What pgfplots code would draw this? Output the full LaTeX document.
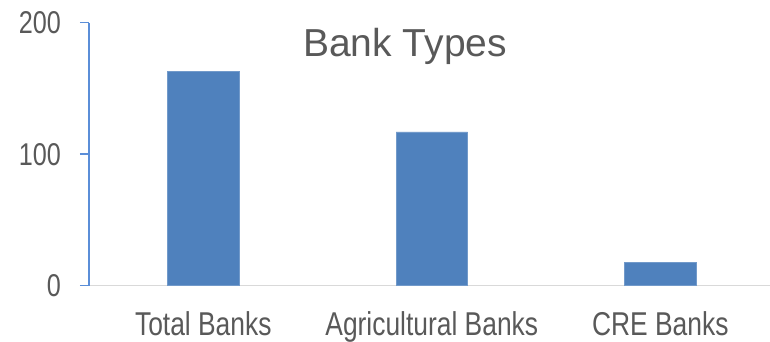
\documentclass[border=0pt]{standalone}
\usepackage{fontspec}
\setmainfont{Liberation Sans}
\newfontfamily\narrow{Liberation Sans}[FakeStretch=0.8]
\usepackage{pgfplots}
\pgfplotsset{compat=1.18}
\definecolor{barblue}{HTML}{4F81BD}
\definecolor{axblue}{HTML}{5B8ED8}
\definecolor{txtgray}{HTML}{595959}
\definecolor{xgray}{HTML}{D9D9D9}
\begin{document}
\begin{tikzpicture}
\useasboundingbox (-89pt,-56.3pt) rectangle (681pt,285.7pt);
\begin{axis}[
  at={(0pt,0pt)}, anchor=south west,
  scale only axis, width=681pt, height=263pt,
  xmin=-0.5, xmax=2.48, ymin=0, ymax=200,
  axis x line*=bottom, axis y line*=left,
  axis line style={-},
  x axis line style={draw=xgray, line width=1.5pt},
  y axis line style={draw=axblue, line width=1.5pt},
  xtick={0,1,2},
  xticklabels={Total Banks, Agricultural Banks, CRE Banks},
  ytick={0,100,200},
  tick align=outside,
  major tick length=9pt,
  xtick style={draw=none},
  ytick style={draw=axblue, line width=1.5pt},
  /pgf/number format/assume math mode=true,
  yticklabel style={font=\narrow\fontsize{31.5}{31.5}\selectfont, text=txtgray, anchor=east, inner sep=0pt, xshift=-19pt},
  xticklabel style={font=\narrow\fontsize{33}{33}\selectfont, text=txtgray, anchor=base, inner sep=0pt, yshift=-40.5pt},
  ybar, bar width=71.5pt,
  clip=false,
]
\addplot[fill=barblue, draw=barblue!80!white, line width=0.6pt] coordinates {(0,163) (1,117) (2,18)};
\end{axis}
\node[anchor=base, text=txtgray, font=\fontsize{39}{39}\selectfont] at (316pt,229pt) {Bank Types};
\end{tikzpicture}
\end{document}
